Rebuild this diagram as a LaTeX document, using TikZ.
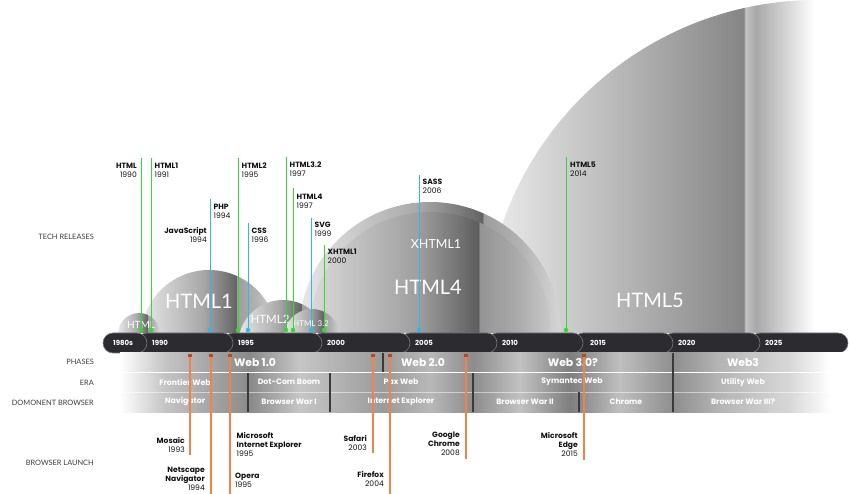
\documentclass[tikz,border=0pt]{standalone}
\usepackage{fontspec}
\newfontfamily\labelfont{Poppins}
\newfontfamily\thinfont{Lato}
\usetikzlibrary{calc}

\definecolor{barDark}{HTML}{2C2B30}
\definecolor{barEdge}{HTML}{77767C}
\definecolor{techGreen}{HTML}{33D933}
\definecolor{techBlue}{HTML}{2EB8EE}
\definecolor{launchOrange}{HTML}{F0824A}
\definecolor{launchMark}{HTML}{B8471C}
\definecolor{cellDiv}{HTML}{3A3A3A}
\definecolor{labelInk}{HTML}{111111}
\definecolor{titleInk}{HTML}{3C3C3C}
% dome greys
\definecolor{domeA}{HTML}{E8E8E8}
\definecolor{domeB}{HTML}{A9A9A9}
\definecolor{domeC}{HTML}{646464}
\definecolor{domeD}{HTML}{9D9D9D}
\definecolor{domeE}{HTML}{B3B3B3}
\definecolor{domeF}{HTML}{D6D6D6}
\definecolor{bigA}{HTML}{EEEEEE}
\definecolor{bigB}{HTML}{858585}
\definecolor{bigC}{HTML}{C4C4C4}
\definecolor{bigD}{HTML}{A8A8A8}
% band greys
\definecolor{bandA}{HTML}{C4C4C4}
\definecolor{bandB}{HTML}{8A8A8A}
\definecolor{bandC}{HTML}{C6C6C6}
\definecolor{bandD}{HTML}{9A9A9A}
\definecolor{bandE}{HTML}{B8B8B8}
\definecolor{bandF}{HTML}{8C8C8C}
\definecolor{bandG}{HTML}{C2C2C2}
\definecolor{bandH}{HTML}{7E7E7E}
\definecolor{bandI}{HTML}{BFBFBF}
\definecolor{bandJ}{HTML}{8E8E8E}
\definecolor{bandK}{HTML}{B5B5B5}
\definecolor{bandL}{HTML}{D8D8D8}

\pgfdeclarehorizontalshading{domeshade}{100bp}{color(0bp)=(domeA); color(25bp)=(domeA);
  color(47.5bp)=(domeB); color(60bp)=(domeC); color(60.25bp)=(domeD);
  color(67.5bp)=(domeE); color(75bp)=(domeF); color(100bp)=(domeF)}
\pgfdeclarehorizontalshading{html5shade}{100bp}{color(0bp)=(bigA); color(25bp)=(bigA);
  color(44.5bp)=(bigB); color(44.6bp)=(bigC); color(45.4bp)=(bigD);
  color(49.8bp)=(white); color(100bp)=(white)}
\pgfdeclarehorizontalshading{bandshade}{100bp}{color(0bp)=(white); color(25bp)=(white);
  color(28.09bp)=(bandA); color(33.92bp)=(bandB); color(37.35bp)=(bandC);
  color(43.04bp)=(bandD); color(46.26bp)=(bandE); color(49.21bp)=(bandF);
  color(52.43bp)=(bandG); color(55.86bp)=(bandH); color(59.29bp)=(bandI);
  color(62.93bp)=(bandJ); color(66.15bp)=(bandK); color(70.95bp)=(bandL);
  color(73.7bp)=(white); color(100bp)=(white)}

\tikzset{
  barseg/.style={fill=barDark, draw=barEdge, line width=.6pt, rounded corners=10pt},
  yearlbl/.style={anchor=west, inner sep=0pt, text=white,
    font=\labelfont\bfseries\fontsize{7}{8}\selectfont},
  domelbl/.style={inner sep=0pt, text=white, font=\thinfont},
  reldot/.style={circle, inner sep=0pt, minimum size=4.5pt},
  relline/.style={line width=1pt},
  rellabel/.style={inner sep=0pt, text=labelInk,
    font=\labelfont\fontsize{7.6}{9}\selectfont},
  launchmark/.style={rectangle, fill=launchMark, inner sep=0pt,
    minimum width=4pt, minimum height=3.5pt},
  launchline/.style={draw=launchOrange, line width=1.1pt},
  rowsep/.style={draw=white, line width=1pt},
  celldiv/.style={draw=cellDiv, line width=1.2pt},
  phaselbl/.style={inner sep=0pt, text=white,
    font=\labelfont\bfseries\fontsize{10.8}{12}\selectfont},
  cellbl/.style={inner sep=0pt, text=white,
    font=\labelfont\bfseries\fontsize{7.8}{9}\selectfont},
  rowtitle/.style={anchor=east, inner sep=0pt, text=titleInk,
    font=\thinfont\fontsize{7.4}{8}\selectfont}
}

\begin{document}
\begin{tikzpicture}[x=1pt, y=-1pt]
  \useasboundingbox (0,0) rectangle (849,494);
  \clip (0,0) rectangle (849,494);

  % version domes
  \begin{scope}
    \clip (0,0) rectangle (849,333);
    \shade[shading=html5shade] (817,333) circle[radius=333];
    \shade[shading=domeshade] (430,333) circle[radius=131];
    \shade[shading=domeshade] (430,333) circle[radius=121];
    \fill[black, opacity=.06] (430,333) circle[radius=121];
    \shade[shading=domeshade] (209,338) circle[radius=68];
    \shade[shading=domeshade] (139,334) circle[radius=21];
    \shade[shading=domeshade] (283,345) circle[radius=45];
    \shade[shading=domeshade] (312,337) circle[radius=28];
  \end{scope}
  \node[domelbl, font=\thinfont\fontsize{20}{24}\selectfont] (dome-html5) at (650,300) {HTML5};
  \node[domelbl, font=\thinfont\fontsize{20}{24}\selectfont] (dome-html4) at (428,287) {HTML4};
  \node[domelbl, font=\thinfont\fontsize{12.5}{15}\selectfont] (dome-xhtml1) at (436,244) {XHTML1};
  \node[domelbl, font=\thinfont\fontsize{20}{24}\selectfont] (dome-html1) at (199,301) {HTML1};
  \node[domelbl, font=\thinfont\fontsize{10}{12}\selectfont] (dome-html) at (141,325) {HTML};
  \node[domelbl, font=\thinfont\fontsize{11.5}{14}\selectfont] (dome-html2) at (270,319) {HTML2};
  \node[domelbl, font=\thinfont\fontsize{8}{10}\selectfont] (dome-html32) at (311,324) {HTML 3.2};

  % timeline bar
  \foreach \a/\b in {750/848, 663/760, 573/673, 487/583, 400/497, 312/410, 223/322, 137/233, 103/147}
    \draw[barseg] (\a,333) rectangle (\b,353);
  \foreach \yr/\x in {1980s/113, 1990/152, 1995/238, 2000/327, 2005/415, 2010/502, 2015/590, 2020/678, 2025/765}
    \node[yearlbl] (bar-\yr) at (\x,343) {\yr};

  % phases, era, browser rows
  \shade[shading=bandshade] (120,353) rectangle (849,412);
  \draw[rowsep] (120,372.5) -- (849,372.5);
  \draw[rowsep, line width=.5pt, opacity=.5] (120,392) -- (849,392);
  \foreach \x/\a/\b in {383/353/372, 673/353/412, 248/373/412, 330/373/412, 473/373/412, 579/392/412}
    \draw[celldiv] (\x,\a) -- (\x,\b);

  \node[phaselbl] (web1) at (255,362.5) {Web 1.0};
  \node[phaselbl] (web2) at (423,362.5) {Web 2.0};
  \node[phaselbl] (web30) at (573,362.5) {Web 3.0?};
  \node[phaselbl] (web3) at (743,362.5) {Web3};

  \node[cellbl] (era-frontier) at (185,382) {Frontier Web};
  \node[cellbl] (era-dotcom) at (289,382) {Dot-Com Boom};
  \node[cellbl] (era-pax) at (401,382) {Pax Web};
  \node[cellbl] (era-symantec) at (572,382) {Symantec Web};
  \node[cellbl] (era-utility) at (743,382) {Utility Web};

  \node[cellbl] (dom-navigator) at (185,401.5) {Navigator};
  \node[cellbl] (dom-war1) at (289,401.5) {Browser War I};
  \node[cellbl] (dom-ie) at (401,401.5) {Internet Explorer};
  \node[cellbl] (dom-war2) at (525,401.5) {Browser War II};
  \node[cellbl] (dom-chrome) at (626,401.5) {Chrome};
  \node[cellbl] (dom-war3) at (743,401.5) {Browser War III?};

  % browser launches
  \foreach \id/\x/\bot in {mosaic/190/455, netscape/211/494, ie/230/494, safari/373/453, firefox/390/494, chrome/466/459, edge/584/460}{
    \node[launchmark] (\id-mark) at (\x,355.5) {};
    \coordinate (\id-end) at (\x,\bot);
    \draw[launchline] (\id-mark.south) -- (\id-end);
  }

  % tech releases
  \foreach \id/\x/\top/\col in {html/141/158/techGreen, html1/151/158/techGreen, php/210/199/techBlue,
      html2/238/158/techGreen, css/248/223/techBlue, html32/286/157/techGreen, html4/293/188/techGreen,
      svg/311/218/techBlue, xhtml1/324/245/techGreen, sass/419/175/techBlue, html5/566/157/techGreen}{
    \coordinate (\id-top) at (\x,\top);
    \node[reldot, fill=\col] (\id-dot) at (\x,330) {};
    \draw[relline, draw=\col] (\id-top) -- (\id-dot);
  }

  \node[rellabel, anchor=north east, align=right] (html-lbl) at (137,162.5) {\textbf{HTML}\\1990};
  \node[rellabel, anchor=north west, align=left] (html1-lbl) at (154.5,162.5) {\textbf{HTML1}\\1991};
  \node[rellabel, anchor=north west, align=left] (php-lbl) at (213.5,203.5) {\textbf{PHP}\\1994};
  \node[rellabel, anchor=north east, align=right] (js-lbl) at (207,227.5) {\textbf{JavaScript}\\1994};
  \node[rellabel, anchor=north west, align=left] (html2-lbl) at (241.5,162.5) {\textbf{HTML2}\\1995};
  \node[rellabel, anchor=north west, align=left] (css-lbl) at (251.5,227.5) {\textbf{CSS}\\1996};
  \node[rellabel, anchor=north west, align=left] (html32-lbl) at (289.5,161.5) {\textbf{HTML3.2}\\1997};
  \node[rellabel, anchor=north west, align=left] (html4-lbl) at (296.5,193.5) {\textbf{HTML4}\\1997};
  \node[rellabel, anchor=north west, align=left] (svg-lbl) at (314.5,221.5) {\textbf{SVG}\\1999};
  \node[rellabel, anchor=north west, align=left] (xhtml1-lbl) at (327.5,248.5) {\textbf{XHTML1}\\2000};
  \node[rellabel, anchor=north west, align=left] (sass-lbl) at (422.5,178.5) {\textbf{SASS}\\2006};
  \node[rellabel, anchor=north west, align=left] (html5-lbl) at (570,161.5) {\textbf{HTML5}\\2014};

  \node[rellabel, anchor=north east, align=right] (mosaic-lbl) at (185,437.5) {\textbf{Mosaic}\\1993};
  \node[rellabel, anchor=north east, align=right] (netscape-lbl) at (205,466.5) {\textbf{Netscape}\\\textbf{Navigator}\\1994};
  \node[rellabel, anchor=north west, align=left] (ie-lbl) at (236.5,432.5) {\textbf{Microsoft}\\\textbf{Internet Explorer}\\1995};
  \node[rellabel, anchor=north west, align=left] (opera-lbl) at (235,472.5) {\textbf{Opera}\\1995};
  \node[rellabel, anchor=north east, align=right] (safari-lbl) at (367,435.5) {\textbf{Safari}\\2003};
  \node[rellabel, anchor=north east, align=right] (firefox-lbl) at (384,471.5) {\textbf{Firefox}\\2004};
  \node[rellabel, anchor=north east, align=right] (chrome-lbl) at (460,431.5) {\textbf{Google}\\\textbf{Chrome}\\2008};
  \node[rellabel, anchor=north east, align=right] (edge-lbl) at (578,432.5) {\textbf{Microsoft}\\\textbf{Edge}\\2015};

  % row titles
  \node[rowtitle] (title-tech) at (94,237) {TECH RELEASES};
  \node[rowtitle] (title-phases) at (94,362) {PHASES};
  \node[rowtitle] (title-era) at (94,383) {ERA};
  \node[rowtitle] (title-browser) at (94,403) {DOMONENT BROWSER};
  \node[rowtitle] (title-launch) at (94,463) {BROWSER LAUNCH};
\end{tikzpicture}
\end{document}
